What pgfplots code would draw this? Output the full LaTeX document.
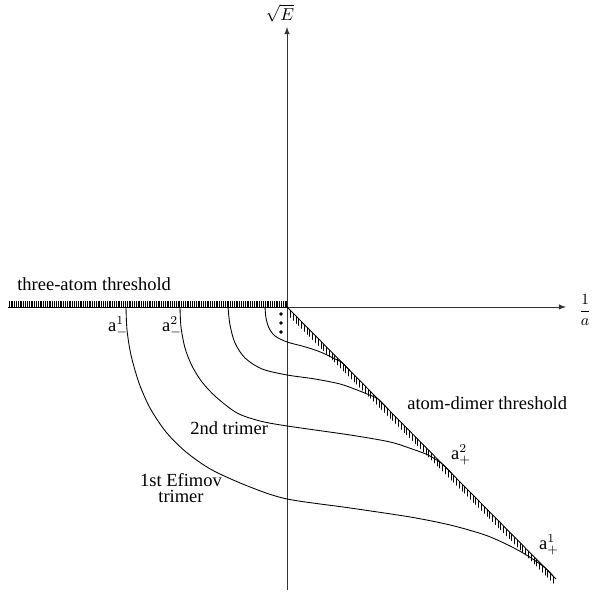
\documentclass[border=0pt]{standalone}
\usepackage{pgfplots}
\pgfplotsset{compat=1.18}
\usepackage{fontspec}
\setmainfont{Liberation Serif}
\usetikzlibrary{patterns.meta}

\tikzset{
  lbl/.style={font=\fontsize{10.7}{12.5}\selectfont},
}

\begin{document}
\begin{tikzpicture}
\begin{axis}[
  name=ax,
  width=343pt, height=342.4pt, scale only axis,
  xmin=0, xmax=593, ymin=0, ymax=592, y dir=reverse,
  axis lines=none, clip=false,
]
% page frame
\addplot[draw=none] coordinates {(0,0) (593,592)};

% hatched bands of the thresholds
\addplot[draw=none, pattern={Lines[angle=90, distance=1.05pt, line width=0.4pt]}]
  coordinates {(8,307) (287,307) (287,301) (8,301)};
\addplot[draw=none, pattern={Lines[angle=90, distance=1.6pt, line width=0.4pt]}]
  coordinates {(287,307) (556,579) (556,586) (287,314)};

% axes
\addplot[line width=0.45pt, draw=black!80, ->, >=latex] coordinates {(8,307) (566,307)};
\addplot[line width=0.45pt, draw=black!80, ->, >=latex] coordinates {(287,590) (287,27)};

% thresholds
\addplot[line width=0.5pt] coordinates {(8,307) (287,307)};
\addplot[line width=0.5pt] coordinates {(287,307) (556,579)};

% trimer branches
\addplot[line width=0.5pt, smooth, tension=0.5] coordinates {
  (126,307) (127,330) (131,355) (139,383) (150,408) (166,432) (186,452)
  (212,470) (250,487) (287,499) (350,508) (410,517) (450,525) (485,535)
  (510,546) (528,556) (545,567.8) (553,575.9)};
\addplot[line width=0.5pt, smooth, tension=0.5] coordinates {
  (180,307) (181,327) (185,348) (192,366) (202,382) (216,397) (237,413)
  (260,421) (287,426) (350,435) (390,442) (412,449) (428,455) (442,463.7)
  (452,473.8)};
\addplot[line width=0.5pt, smooth, tension=0.5] coordinates {
  (228,307) (230,325) (235,343) (245,358) (262,369) (287,375)
  (315,379) (340,384) (357,390) (367,394) (378,399.0) (388,409.1)};
\addplot[line width=0.5pt, smooth, tension=0.5] coordinates {
  (265,307) (266,318) (269,328) (275,336) (287,342)
  (302,346) (315,350) (325,354) (333,358) (342,362.6) (350,370.7)};

% dots
\addplot[only marks, mark=*, mark size=0.75pt] coordinates {(281,314) (281,323) (281,332)};
\end{axis}

% labels, in the same pixel units as the axis
\begin{scope}[shift={(ax.north west)}, x=0.57841pt, y=-0.57841pt]
\node[lbl, anchor=base west, inner sep=0pt] at (17,291) {three-atom threshold};
\node[lbl, anchor=base west, inner sep=0pt] at (407,410) {atom-dimer threshold};
\node[lbl, anchor=base west, inner sep=0pt] at (190,435) {2nd trimer};
\node[lbl, anchor=base, inner sep=0pt] at (181,487) {1st Efimov};
\node[lbl, anchor=base, inner sep=0pt] at (181,503) {trimer};
\node[lbl, inner sep=0pt] at (118,327) {a$^{1}_{-}$};
\node[lbl, inner sep=0pt] at (172,327) {a$^{2}_{-}$};
\node[lbl, inner sep=0pt] at (461,455) {a$^{2}_{+}$};
\node[lbl, inner sep=0pt] at (549,545) {a$^{1}_{+}$};
\node[inner sep=0pt] at (280,13) {$\sqrt{E}$};
\node[inner sep=0pt, font=\fontsize{9.5}{11}\selectfont] at (585,310) {$\displaystyle\frac{1}{a}$};
\end{scope}
\end{tikzpicture}
\end{document}
